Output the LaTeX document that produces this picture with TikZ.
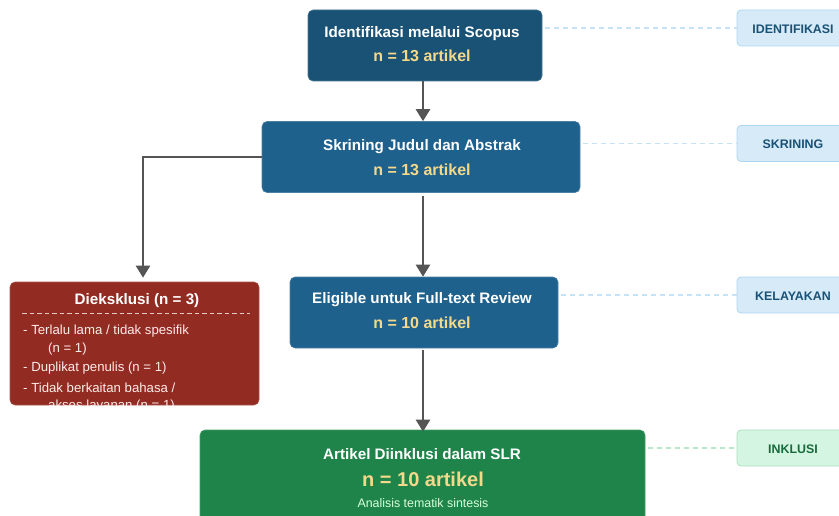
\documentclass[tikz,border=0pt]{standalone}
\usepackage{fontspec}
\setmainfont{Liberation Sans}
\usetikzlibrary{arrows.meta}
\definecolor{bdark}{HTML}{1A5276}
\definecolor{bmid}{HTML}{1F618D}
\definecolor{rdark}{HTML}{922B21}
\definecolor{gdark}{HTML}{1E8449}
\definecolor{ytext}{HTML}{F3D98B}
\definecolor{lblfill}{HTML}{D6EAF8}
\definecolor{lbldraw}{HTML}{AED6F1}
\definecolor{lnkblue}{HTML}{C6E2F7}
\definecolor{lgfill}{HTML}{D5F5E3}
\definecolor{lgdraw}{HTML}{A9DFBF}
\definecolor{lnkgreen}{HTML}{B9E8CC}
\definecolor{arr}{HTML}{555555}
\begin{document}
\begin{tikzpicture}[x=1pt,y=-1pt,
  flowbox/.style={rounded corners=5pt, inner sep=0pt, line width=0.6pt},
  titletxt/.style={text=white, font=\fontsize{15.2}{17}\selectfont\bfseries, inner sep=0pt},
  numtxt/.style={text=ytext, font=\fontsize{16}{18}\selectfont\bfseries, inner sep=0pt},
  itemtxt/.style={text=white!92!red, font=\fontsize{13.2}{15}\selectfont, inner sep=0pt, anchor=west},
  lblbox/.style={rounded corners=4pt, fill=lblfill, draw=lbldraw, line width=0.8pt, minimum width=112pt, minimum height=36pt, inner sep=0pt},
  lbltxt/.style={text=bdark, font=\fontsize{12.4}{14}\selectfont\bfseries, inner sep=0pt},
  link/.style={draw=lnkblue, line width=1.5pt, dash pattern=on 5pt off 4pt},
  flowarr/.style={draw=arr, line width=2.4pt, -{Triangle[width=14pt,length=12pt]}}
]
\useasboundingbox (0,0) rectangle (839,516);
\clip (0,0) rectangle (839,516);
\coordinate (ax) at (423,0);

% main boxes
\node[flowbox, fill=bdark, draw=bdark!80!white, minimum width=234pt, minimum height=71pt] (b1) at (425,45.5) {};
\node[titletxt] (b1t) at (422,34) {Identifikasi melalui Scopus};
\node[numtxt] (b1n) at (422,55.5) {n = 13 artikel};

\node[flowbox, fill=bmid, draw=bmid!80!white, minimum width=318pt, minimum height=71pt] (b2) at (421,157) {};
\node[titletxt] (b2t) at (422,147) {Skrining Judul dan Abstrak};
\node[numtxt] (b2n) at (422,169.5) {n = 13 artikel};

\node[flowbox, fill=bmid, draw=bmid!80!white, minimum width=268pt, minimum height=71pt] (b3) at (424,312.5) {};
\node[titletxt] (b3t) at (422,300) {Eligible untuk Full-text Review};
\node[numtxt] (b3n) at (422,322.5) {n = 10 artikel};

\node[flowbox, fill=gdark, draw=gdark!80!white, minimum width=445pt, minimum height=92pt] (b4) at (422.5,476) {};
\node[titletxt] (b4t) at (422,454.5) {Artikel Diinklusi dalam SLR};
\node[text=ytext, font=\fontsize{20}{22}\selectfont\bfseries, inner sep=0pt] (b4n) at (423,479) {n = 10 artikel};
\node[text=white!85!green, font=\fontsize{12.4}{14}\selectfont, inner sep=0pt] (b4s) at (423,503.5) {Analisis tematik sintesis};

% excluded box
\node[flowbox, fill=rdark, draw=rdark!80!white, minimum width=249pt, minimum height=123pt] (ex) at (134.5,343.5) {};
\begin{scope}
  \clip[rounded corners=5pt] (10.5,282) rectangle (259,405);
  \node[titletxt] (ext) at (137,300.5) {Dieksklusi (n = 3)};
  \coordinate (dl1) at (22,313);
  \coordinate (dl2) at (250,313);
  \draw[white!75!rdark, line width=1pt, dash pattern=on 4.5pt off 3pt] (dl1) -- (dl2);
  \node[itemtxt] (ex1) at (23,331) {- Terlalu lama / tidak spesifik};
  \node[itemtxt] (ex1b) at (48,349) {(n = 1)};
  \node[itemtxt] (ex2) at (23,368) {- Duplikat penulis (n = 1)};
  \node[itemtxt] (ex3) at (23,388) {- Tidak berkaitan bahasa /};
  \node[itemtxt] (ex3b) at (48,406) {akses layanan (n = 1)};
\end{scope}

% stage labels
\node[lblbox] (l1) at (793,28) {};
\node[lbltxt] (l1t) at (793,29) {IDENTIFIKASI};
\node[lblbox] (l2) at (793,143.5) {};
\node[lbltxt] (l2t) at (793,144.5) {SKRINING};
\node[lblbox] (l3) at (793,295) {};
\node[lbltxt] (l3t) at (793,296) {KELAYAKAN};
\node[lblbox, fill=lgfill, draw=lgdraw] (l4) at (793,448) {};
\node[lbltxt, text=gdark!80!black] (l4t) at (793,449) {INKLUSI};

% dashed links
\draw[link, shorten <=3pt] (b1.east |- l1) -- (l1.west);
\draw[link, shorten <=3pt] (b2.east |- l2) -- (l2.west);
\draw[link, shorten <=3pt] (b3.east |- l3) -- (l3.west);
\draw[link, draw=lnkgreen, shorten <=3pt] (b4.east |- l4) -- (l4.west);

% arrows
\draw[flowarr] (b1.south -| ax) -- (b2.north -| ax);
\draw[flowarr, shorten <=3pt] (b2.south -| ax) -- (b3.north -| ax);
\draw[flowarr, shorten <=2pt] (b3.south -| ax) -- ([yshift=-2pt]b4.north -| ax);
\draw[flowarr, shorten >=4pt] (b2.west) -| ([xshift=8.5pt]ex.north);
\end{tikzpicture}
\end{document}
